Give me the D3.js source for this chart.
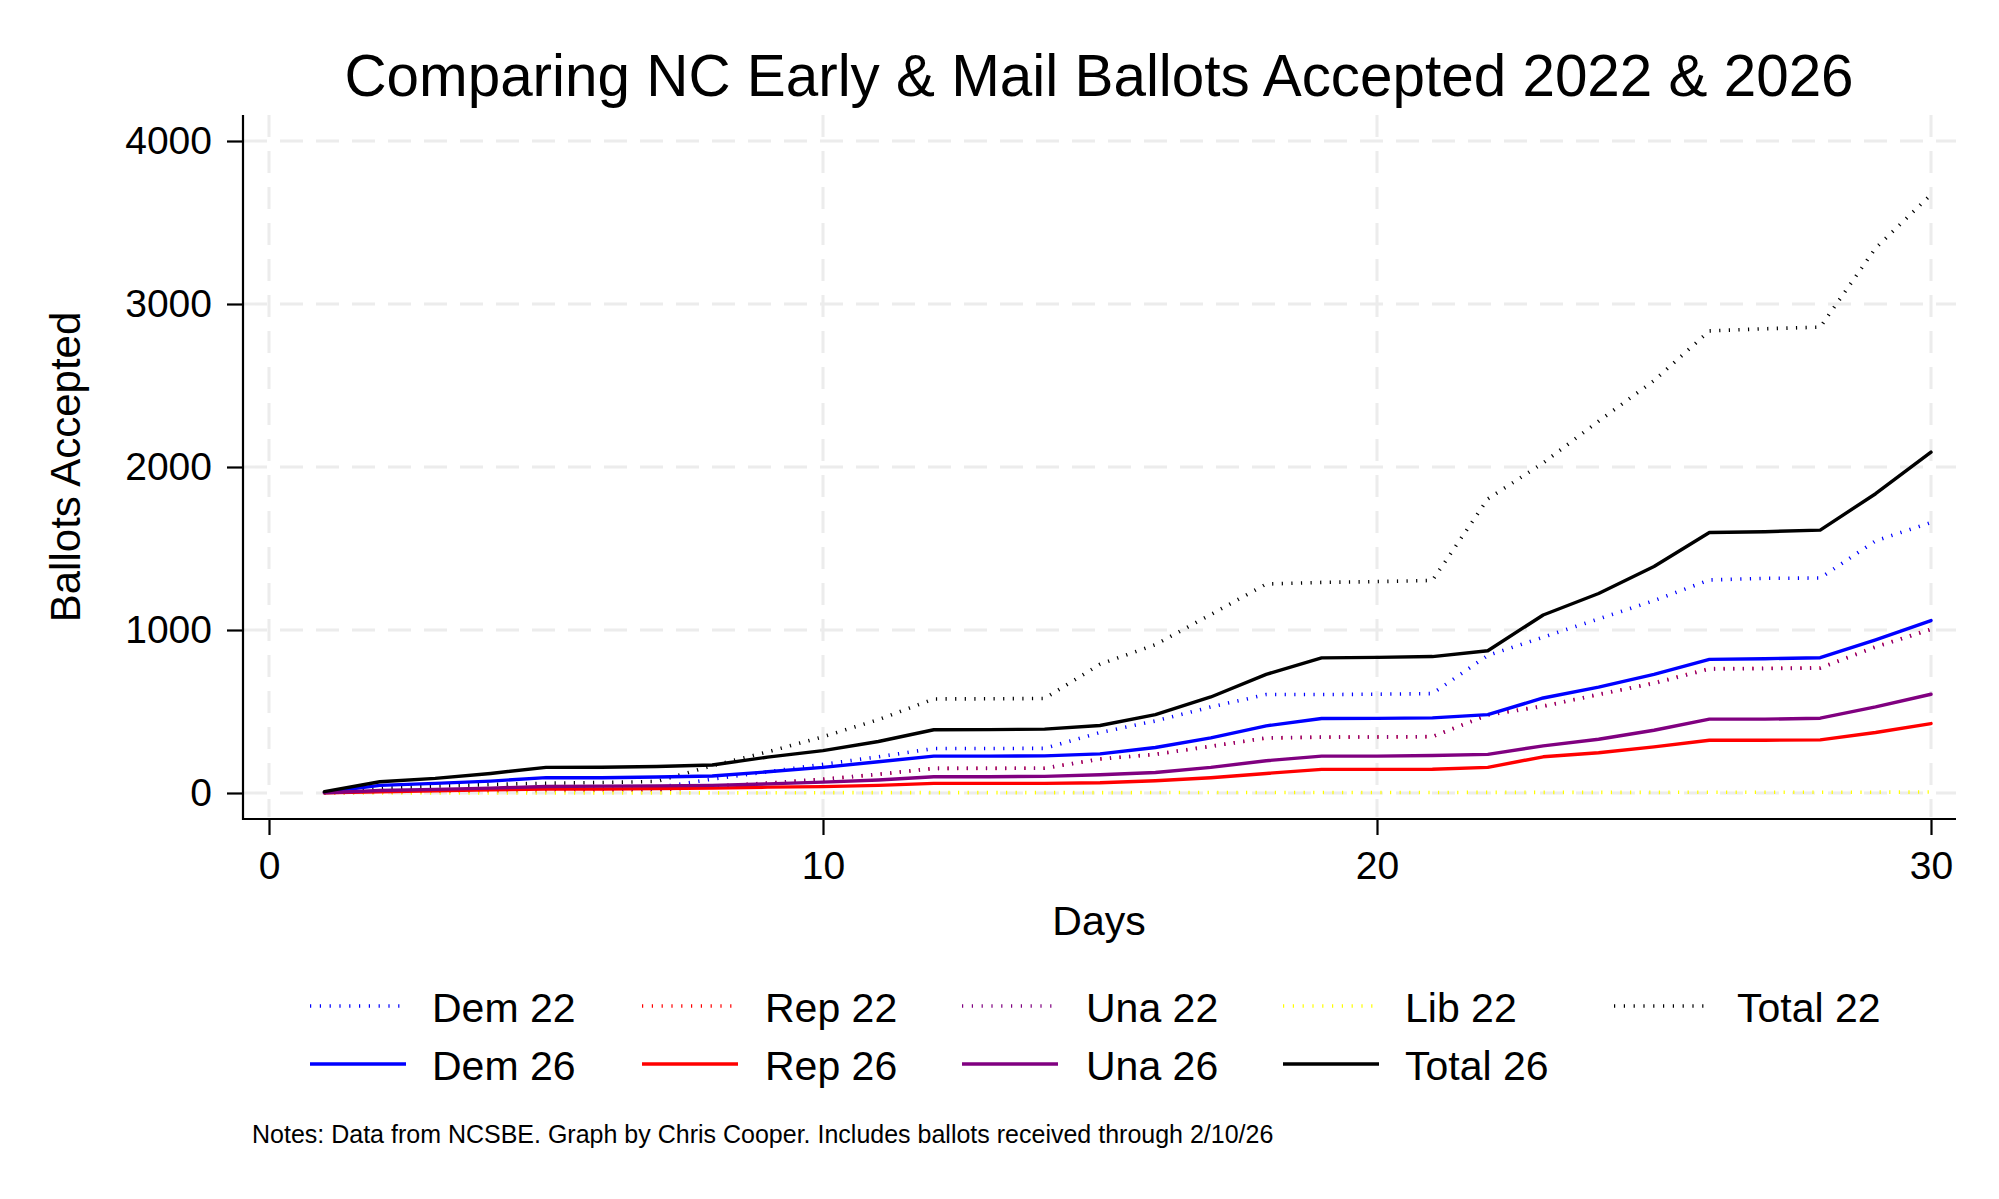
<!DOCTYPE html>
<html>
<head>
<meta charset="utf-8">
<script src="https://cdn.jsdelivr.net/npm/d3@7"></script>
<style>
  html, body { margin: 0; padding: 0; background: #ffffff; }
  svg text { font-family: "Liberation Sans", Arial, Helvetica, sans-serif; fill: #000; }
</style>
</head>
<body>
<svg id="chart" width="1999" height="1199"></svg>
<script>
// ---- data ----
const days    = [1, 2, 3, 4, 5, 6, 7, 8, 9, 10, 11, 12, 13, 14, 15, 16, 17, 18, 19, 20, 21, 22, 23, 24, 25, 26, 27, 28, 29, 30];
const dem22   = [2, 14, 20, 25, 28, 30, 33, 85, 130, 176, 222, 273, 273, 274, 371, 442, 528, 604, 604, 606, 610, 844, 956, 1068, 1180, 1307, 1317, 1319, 1547, 1659];
const rep22   = [1, 7, 11, 13, 15, 16, 18, 40, 60, 84, 114, 151, 151, 152, 208, 238, 287, 337, 342, 344, 345, 480, 534, 603, 676, 763, 765, 768, 898, 1005];
const una22   = [1, 7, 11, 14, 16, 17, 19, 41, 61, 85, 115, 151, 152, 152, 209, 237, 286, 338, 343, 344, 346, 478, 531, 606, 672, 760, 763, 766, 895, 1003];
const lib22   = [0, 0, 0, 0, 1, 1, 1, 1, 1, 2, 2, 2, 2, 2, 2, 3, 3, 3, 3, 3, 3, 4, 4, 4, 4, 5, 5, 5, 5, 6];
const total22 = [4, 28, 42, 52, 60, 64, 71, 167, 252, 345, 450, 577, 578, 580, 790, 910, 1095, 1282, 1292, 1297, 1304, 1804, 2025, 2281, 2530, 2835, 2848, 2858, 3343, 3671];
const dem26   = [4, 47, 59, 73, 94, 94, 98, 104, 130, 157, 192, 226, 226, 228, 240, 279, 338, 412, 457, 458, 461, 481, 583, 650, 728, 820, 824, 830, 940, 1058];
const rep26   = [1, 8, 14, 19, 24, 25, 27, 30, 36, 39, 47, 59, 59, 59, 63, 75, 94, 120, 145, 145, 146, 157, 222, 247, 283, 324, 324, 326, 371, 426];
const una26   = [1, 15, 22, 30, 40, 42, 44, 47, 56, 67, 80, 100, 100, 102, 112, 126, 157, 198, 226, 226, 230, 237, 289, 330, 385, 453, 453, 459, 528, 606];
const total26 = [8, 69, 90, 120, 157, 158, 163, 172, 220, 260, 316, 388, 389, 392, 414, 481, 589, 728, 829, 832, 837, 873, 1092, 1224, 1390, 1598, 1603, 1613, 1836, 2091];

const xTicks = [0, 10, 20, 30];
const yTicks = [0, 1000, 2000, 3000, 4000];

const seriesNames  = ["Dem 22", "Rep 22", "Una 22", "Lib 22", "Total 22", "Dem 26", "Rep 26", "Una 26", "Total 26"];
const seriesValues = [dem22, rep22, una22, lib22, total22, dem26, rep26, una26, total26];
const seriesColors = ["#0000ff", "#ff0000", "#800080", "#ffff00", "#000000", "#0000ff", "#ff0000", "#800080", "#000000"];
const seriesDotted = [true, true, true, true, true, false, false, false, false];

const titleText = "Comparing NC Early & Mail Ballots Accepted 2022 & 2026";
const xTitle = "Days";
const yTitle = "Ballots Accepted";
const noteText = "Notes: Data from NCSBE. Graph by Chris Cooper. Includes ballots received through 2/10/26";

// ---- layout ----
const svg = d3.select("#chart");
const plotL = 243, plotR = 1956, plotT = 115, plotB = 819;
const x = d3.scaleLinear().domain([0, 30]).range([269, 1931]);
const y = d3.scaleLinear().domain([0, 4000]).range([793, 141]);

const gridColor = "#ececec";
const g = svg.append("g");

// gridlines
g.append("g").selectAll("line").data(yTicks).join("line")
  .attr("x1", plotL + 1).attr("x2", plotR)
  .attr("y1", d => y(d)).attr("y2", d => y(d))
  .attr("stroke", gridColor).attr("stroke-width", 3)
  .attr("stroke-dasharray", "23,13");
g.append("g").selectAll("line").data(xTicks).join("line")
  .attr("x1", d => x(d)).attr("x2", d => x(d))
  .attr("y1", plotT).attr("y2", plotB - 2)
  .attr("stroke", gridColor).attr("stroke-width", 3)
  .attr("stroke-dasharray", "22,14");

// series lines
const lineGen = vals => d3.line().x((d, i) => x(days[i])).y(d => y(d))(vals);
seriesValues.forEach((vals, k) => {
  g.append("path")
    .attr("d", lineGen(vals))
    .attr("fill", "none")
    .attr("stroke", seriesColors[k])
    .attr("stroke-width", seriesDotted[k] ? 3.6 : 3.4)
    .attr("stroke-linejoin", "round")
    .attr("stroke-linecap", seriesDotted[k] ? "butt" : "round")
    .attr("stroke-dasharray", seriesDotted[k] ? "1.2,8.4" : null);
});

// axes
const yAxis = d3.axisLeft(y).tickValues(yTicks).tickFormat(d3.format("d"))
  .tickSize(16).tickPadding(15).tickSizeOuter(0);
const yg = svg.append("g").attr("transform", `translate(${plotL},0)`).call(yAxis);
yg.select(".domain").remove();
yg.selectAll(".tick line").attr("stroke", "#000").attr("stroke-width", 2.2);
yg.selectAll(".tick text").attr("font-size", 39).attr("font-family", "Liberation Sans, Arial, sans-serif");

const xAxis = d3.axisBottom(x).tickValues(xTicks).tickFormat(d3.format("d"))
  .tickSize(16).tickPadding(16).tickSizeOuter(0);
const xg = svg.append("g").attr("transform", `translate(0,${plotB})`).call(xAxis);
xg.select(".domain").remove();
xg.selectAll(".tick line").attr("stroke", "#000").attr("stroke-width", 2.2);
xg.selectAll(".tick text").attr("font-size", 39).attr("font-family", "Liberation Sans, Arial, sans-serif");

svg.append("line").attr("x1", plotL).attr("x2", plotL).attr("y1", plotT).attr("y2", plotB + 1)
  .attr("stroke", "#000").attr("stroke-width", 2.2);
svg.append("line").attr("x1", plotL - 1).attr("x2", plotR).attr("y1", plotB).attr("y2", plotB)
  .attr("stroke", "#000").attr("stroke-width", 2.2);

// titles
svg.append("text").attr("x", 1099).attr("y", 96).attr("text-anchor", "middle")
  .attr("font-size", 58.4).text(titleText);
svg.append("text").attr("x", 1099).attr("y", 935).attr("text-anchor", "middle")
  .attr("font-size", 41).text(xTitle);
svg.append("text").attr("transform", "translate(80,467) rotate(-90)").attr("text-anchor", "middle")
  .attr("font-size", 42).text(yTitle);

// legend
const keyX  = [310, 642, 962, 1283, 1614];
const textX = [432, 765, 1086, 1405, 1737];
const rowKeyY  = [1006, 1064];
const rowTextY = [1022, 1080];
seriesNames.forEach((name, k) => {
  const row = seriesDotted[k] ? 0 : 1;
  const col = seriesDotted[k] ? k : k - 5;
  const lg = svg.append("g");
  lg.append("line")
    .attr("x1", keyX[col]).attr("x2", keyX[col] + (seriesDotted[k] ? 90 : 96))
    .attr("y1", rowKeyY[row]).attr("y2", rowKeyY[row])
    .attr("stroke", seriesColors[k])
    .attr("stroke-width", seriesDotted[k] ? 3.6 : 3.4)
    .attr("stroke-dasharray", seriesDotted[k] ? "1.2,8.6" : null);
  lg.append("text").attr("x", textX[col]).attr("y", rowTextY[row])
    .attr("font-size", 41).text(name);
});

// note
svg.append("text").attr("x", 252).attr("y", 1143).attr("font-size", 25).text(noteText);
</script>
</body>
</html>
